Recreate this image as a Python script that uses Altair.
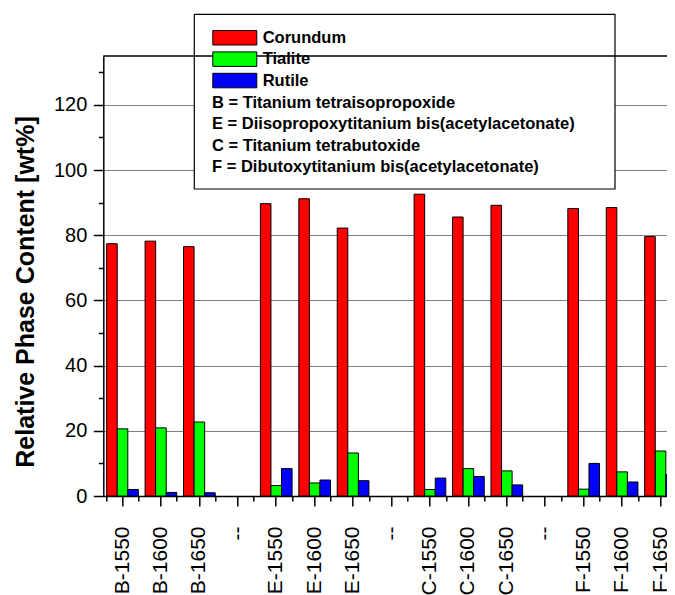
import altair as alt
import pandas as pd

# ---- data ----
categories = ["B-1550", "B-1600", "B-1650", "gap1",
              "E-1550", "E-1600", "E-1650", "gap2",
              "C-1550", "C-1600", "C-1650", "gap3",
              "F-1550", "F-1600", "F-1650"]
corundum = [77.4, 78.2, 76.5, None, 89.7, 91.2, 82.2, None, 92.6, 85.6, 89.2, None, 88.2, 88.5, 79.6]
tialite = [20.6, 20.9, 22.7, None, 3.2, 4.0, 13.2, None, 2.0, 8.4, 7.7, None, 2.1, 7.4, 13.8]
rutile = [2.0, 1.1, 1.0, None, 8.4, 4.9, 4.7, None, 5.5, 6.0, 3.4, None, 10.0, 4.3, 6.6]
phases = ["Corundum", "Tialite", "Rutile"]
phase_colors = ["#FF0000", "#00FF00", "#0000FF"]
description_lines = [
    "B = Titanium tetraisopropoxide",
    "E = Diisopropoxytitanium bis(acetylacetonate)",
    "C = Titanium tetrabutoxide",
    "F = Dibutoxytitanium bis(acetylacetonate)",
]
y_title = "Relative Phase Content [wt%]"
y_ticks = list(range(0, 131, 10))

rows = []
for i, c in enumerate(categories):
    for p, vals in zip(phases, [corundum, tialite, rutile]):
        if vals[i] is not None:
            rows.append({"sample": c, "phase": p, "value": vals[i]})
df = pd.DataFrame(rows)

FONT = "Liberation Sans"
STEP = 38.43
N = len(categories)
PAD_L = 95.3
W, H = 659 - PAD_L, 440

x_scale = alt.Scale(domain=categories, range=[0, STEP * N], paddingInner=0.175, paddingOuter=0.0875)

bars = alt.Chart(df).mark_bar(stroke="black", strokeWidth=1).encode(
    x=alt.X("sample:N", scale=x_scale, sort=categories, axis=alt.Axis(
        title=None, labelAngle=270, labelFont=FONT, labelFontSize=21, labelColor="black",
        labelPadding=20, tickSize=10, tickWidth=1.5, tickColor="black",
        domainColor="black", domainWidth=1.5, grid=False, orient="bottom",
        labelExpr="indexof(datum.value, 'gap') == 0 ? '--' : datum.label")),
    xOffset=alt.XOffset("phase:N", sort=phases,
                        scale=alt.Scale(domain=phases, paddingInner=0, paddingOuter=0)),
    y=alt.Y("value:Q", scale=alt.Scale(domain=[0, 135], nice=False), axis=alt.Axis(
        title=y_title, values=y_ticks,
        labelExpr="datum.value % 20 == 0 ? datum.label : ''",
        labelFont=FONT, labelFontSize=20, labelColor="black", labelPadding=6.5,
        tickSize={"condition": {"test": "datum.value % 20 == 0", "value": 10}, "value": 5},
        tickWidth=1.5, tickColor="black", domainColor="black", domainWidth=1.5,
        grid=True, gridColor="#808080", gridWidth=1,
        gridOpacity={"condition": {"test": "datum.value % 20 == 0 && datum.value > 0", "value": 1}, "value": 0},
        titleFont=FONT, titleFontSize=25, titleFontWeight="bold", titleColor="black",
        titlePadding=15, titleY=235.5)),
    color=alt.Color("phase:N", sort=phases, scale=alt.Scale(domain=phases, range=phase_colors),
                    legend=alt.Legend(
                        title=None, orient="none", legendX=123.25, legendY=-26.5, direction="vertical",
                        symbolType="M-3.034,-1H3.034V1H-3.034Z", symbolSize=210.25,
                        symbolStrokeColor="black", symbolStrokeWidth=1, symbolOpacity=1,
                        labelFont=FONT, labelFontSize=16.5, labelFontWeight="bold", labelColor="black",
                        labelOffset=19.65, rowPadding=2.4, padding=0)),
)

minor = alt.Chart(df).mark_point(opacity=0).encode(
    x=alt.X("sample:N", scale=x_scale, sort=categories, axis=alt.Axis(
        orient="bottom", tickBand="extent", labels=False, domain=False, title=None,
        tickSize=5, tickWidth=1.5, tickColor="black", grid=False)),
)

one = alt.Data(values=[{}])

box = alt.Chart(one).mark_rect(fill="white", stroke="black", strokeWidth=1.2).encode(
    x=alt.value(91), x2=alt.value(511.7), y=alt.value(-41.7), y2=alt.value(133))

desc = alt.Chart(one).mark_text(
    align="left", baseline="top", font=FONT, fontSize=16.5, fontWeight="bold",
    lineHeight=21.3, color="black").encode(
    x=alt.value(108.7), y=alt.value(39), text=alt.value(description_lines))

top = alt.Chart(one).mark_rule(color="black", strokeWidth=1.5).encode(
    x=alt.value(0), x2=alt.value(STEP * N), y=alt.value(0))

chart = alt.layer(bars, minor, box, desc, top).resolve_axis(x="independent").properties(
    width=W, height=H,
    autosize=alt.AutoSizeParams(type="none"),
    padding={"left": PAD_L, "top": 48, "right": 0, "bottom": 99},
).configure_view(stroke=None)

chart.save("out.html", embed_options={"renderer": "svg", "actions": False})
